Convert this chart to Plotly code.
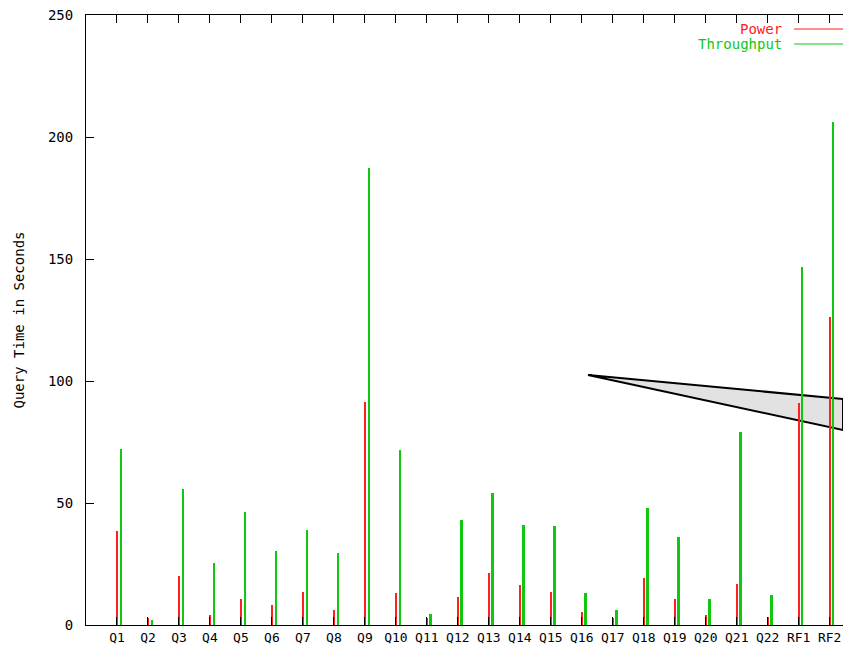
import plotly.graph_objects as go

# Query labels and timings (seconds)
queries = ["Q1", "Q2", "Q3", "Q4", "Q5", "Q6", "Q7", "Q8", "Q9", "Q10", "Q11", "Q12",
           "Q13", "Q14", "Q15", "Q16", "Q17", "Q18", "Q19", "Q20", "Q21", "Q22", "RF1", "RF2"]
power = [38.4, 2.9, 20.0, 4.0, 10.8, 8.1, 13.5, 6.1, 91.4, 13.0, 2.9, 11.3,
         21.4, 16.4, 13.5, 5.2, 3.0, 19.1, 10.8, 4.1, 16.9, 3.4, 90.9, 126.2]
throughput = [72.1, 2.0, 55.7, 25.3, 46.2, 30.5, 38.9, 29.4, 187.2, 71.6, 4.5, 42.9,
              54.1, 41.1, 40.4, 13.0, 6.1, 48.0, 36.0, 10.7, 79.0, 12.4, 146.6, 206.3]
y_ticks = [0, 50, 100, 150, 200, 250]

RED = "#ff2020"
GREEN = "#10c810"
FONT = "DejaVu Sans Mono"
FS = 14

pos = list(range(1, len(queries) + 1))
pos_green = [p + 0.12 for p in pos]

fig = go.Figure()
fig.add_trace(go.Bar(x=pos, y=power, width=0.07, marker=dict(color=RED, line_width=0),
                     name="Power", showlegend=False))
fig.add_trace(go.Bar(x=pos_green, y=throughput, width=0.07, marker=dict(color=GREEN, line_width=0),
                     name="Throughput", showlegend=False))

# grey wedge callout, drawn under the impulses
def px(x):
    return (x - 86) / (843 - 86)

def py(y):
    return (625 - y) / (625 - 15)

fig.add_shape(type="path", xref="paper", yref="paper", layer="below",
              path=f"M {px(588)} {py(375)} L {px(843)} {py(399)} L {px(843)} {py(430)} Z",
              fillcolor="#e2e2e2", line=dict(color="black", width=2))

# legend: right-aligned text followed by a line sample
for label, color, ypix in [("Power", RED, 29), ("Throughput", GREEN, 44)]:
    fig.add_annotation(xref="paper", yref="paper", x=px(784), y=py(ypix), text=label,
                       showarrow=False, xanchor="right", yanchor="middle",
                       font=dict(family=FONT, size=FS, color=color))
    fig.add_shape(type="line", xref="paper", yref="paper", x0=px(794), x1=px(860),
                  y0=py(ypix), y1=py(ypix), line=dict(color=color, width=1.2))

fig.update_layout(
    width=843, height=647,
    margin=dict(l=86, r=0, t=15, b=22),
    plot_bgcolor="white", paper_bgcolor="white",
    barmode="overlay", bargap=0,
    font=dict(family=FONT, size=FS, color="black"),
    showlegend=False,
)
fig.update_xaxes(range=[0, 24.43], tickmode="array", tickvals=pos, ticktext=queries,
                 showgrid=False, zeroline=False, showline=True, linecolor="black", linewidth=1,
                 ticks="inside", ticklen=8, tickcolor="black", mirror="ticks",
                 ticklabelstandoff=0, automargin=False,
                 tickfont=dict(family=FONT, size=13))
fig.update_yaxes(range=[0, 250], tickmode="array", tickvals=y_ticks,
                 showgrid=False, zeroline=False, showline=True, linecolor="black", linewidth=1,
                 ticks="inside", ticklen=8, tickcolor="black", mirror=False,
                 ticklabelstandoff=9, automargin=False,
                 tickfont=dict(family=FONT, size=FS),
                 title=dict(text="Query Time in Seconds", font=dict(family=FONT, size=FS), standoff=20))

fig.write_html("out.html")
